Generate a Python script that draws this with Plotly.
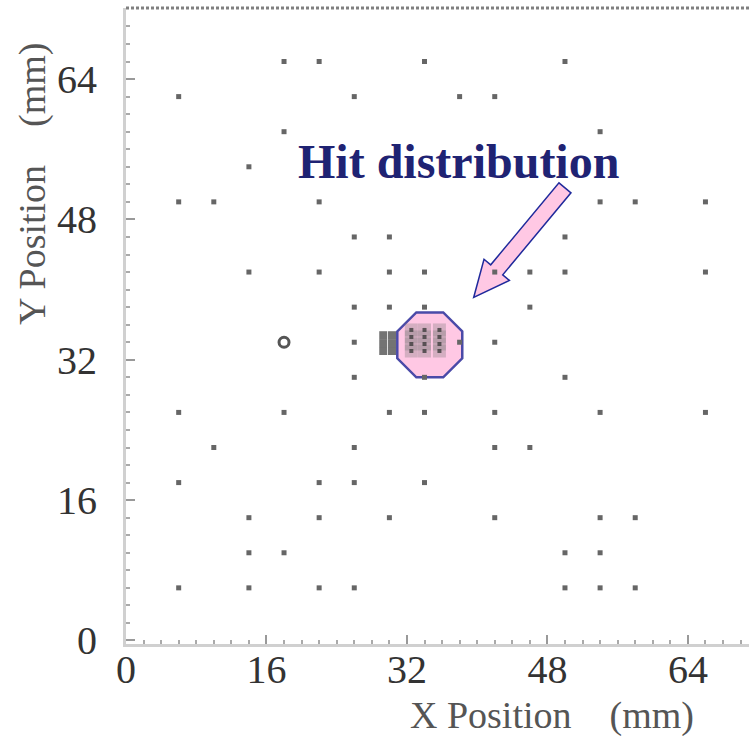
import math
import plotly.graph_objects as go

# ---------------- data (mm) ----------------
hit_x = [18, 22, 34, 50,
         6, 26, 38, 42,
         18, 54,
         14,
         6, 10, 22, 54, 58, 66,
         26, 30, 50,
         14, 22, 30, 34, 42, 46, 50, 66,
         26, 30, 34, 46,
         26, 38, 42,
         26, 34, 50,
         6, 18, 30, 34, 42, 54, 66,
         10, 26, 42, 46,
         6, 22, 26, 34,
         14, 22, 30, 42, 54, 58,
         14, 18, 50, 54,
         6, 14, 22, 26, 50, 54, 58]
hit_y = [66, 66, 66, 66,
         62, 62, 62, 62,
         58, 58,
         54,
         50, 50, 50, 50, 50, 50,
         46, 46, 46,
         42, 42, 42, 42, 42, 42, 42, 42,
         38, 38, 38, 38,
         34, 34, 34,
         30, 30, 30,
         26, 26, 26, 26, 26, 26, 26,
         22, 22, 22, 22,
         18, 18, 18, 18,
         14, 14, 14, 14, 14, 14,
         10, 10, 10, 10,
         6, 6, 6, 6, 6, 6, 6]

ring_x = [18]
ring_y = [34]

block_x = [29.3, 30.3, 29.3, 30.3, 29.3, 30.3]
block_y = [34.8, 34.8, 33.9, 33.9, 33.0, 33.0]

cluster_x = [32.5, 34.0, 35.7, 32.5, 34.0, 35.7, 32.5, 34.0, 35.7, 32.5, 34.0, 35.7]
cluster_y = [35.4, 35.4, 35.4, 34.6, 34.6, 34.6, 33.8, 33.8, 33.8, 33.0, 33.0, 33.0]

x_ticks = [0, 16, 32, 48, 64]
y_ticks = [0, 16, 32, 48, 64]
x_range = [0, 70.96]
y_range = [-0.4, 72.1]

# annotation geometry (mm)
oct_center = (34.6, 33.7)
oct_inradius = 3.7
arrow_tip = (39.6, 39.1)
arrow_tail = (50.0, 51.6)
shaft_half = 0.89
head_half = 1.88
head_len = 4.1

SERIF = "Liberation Serif, Times New Roman, serif"

fig = go.Figure()

fig.add_trace(go.Scatter(x=cluster_x, y=cluster_y, mode="markers",
                         marker=dict(symbol="square", size=13, color="rgba(120,120,120,0.32)"),
                         hoverinfo="skip", showlegend=False))
fig.add_trace(go.Scatter(x=cluster_x, y=cluster_y, mode="markers",
                         marker=dict(symbol="square", size=4, color="rgba(60,60,60,0.8)"),
                         hoverinfo="skip", showlegend=False))
fig.add_trace(go.Scatter(x=block_x, y=block_y, mode="markers",
                         marker=dict(symbol="square", size=8, color="rgba(90,90,90,0.85)"),
                         hoverinfo="skip", showlegend=False))
fig.add_trace(go.Scatter(x=hit_x, y=hit_y, mode="markers",
                         marker=dict(symbol="square", size=5, color="#666666"),
                         hoverinfo="skip", showlegend=False))
fig.add_trace(go.Scatter(x=ring_x, y=ring_y, mode="markers",
                         marker=dict(symbol="circle-open", size=10, color="#555555",
                                     line=dict(width=3)),
                         hoverinfo="skip", showlegend=False))

# octagon
cx, cy = oct_center
R = oct_inradius / math.cos(math.pi / 8)
pts = []
for k in range(8):
    a = math.pi / 8 + k * math.pi / 4
    pts.append((cx + R * math.cos(a), cy + R * math.sin(a)))
oct_path = "M " + " L ".join(f"{px:.3f},{py:.3f}" for px, py in pts) + " Z"
fig.add_shape(type="path", path=oct_path, xref="x", yref="y", layer="below",
              fillcolor="#ffc8e4", line=dict(color="#4a4aa8", width=2.5))

# block arrow
tx, ty = arrow_tip
ex, ey = arrow_tail
L = math.hypot(ex - tx, ey - ty)
dx, dy = (ex - tx) / L, (ey - ty) / L
px_, py_ = -dy, dx
bx, by = tx + dx * head_len, ty + dy * head_len
poly = [
    (tx, ty),
    (bx + px_ * head_half, by + py_ * head_half),
    (bx + px_ * shaft_half, by + py_ * shaft_half),
    (ex + px_ * shaft_half, ey + py_ * shaft_half),
    (ex - px_ * shaft_half, ey - py_ * shaft_half),
    (bx - px_ * shaft_half, by - py_ * shaft_half),
    (bx - px_ * head_half, by - py_ * head_half),
]
arrow_path = "M " + " L ".join(f"{a:.3f},{b:.3f}" for a, b in poly) + " Z"
fig.add_shape(type="path", path=arrow_path, xref="x", yref="y", layer="below",
              fillcolor="#ffc8e4", line=dict(color="#1f2a9c", width=1.5))

# top dashed border
fig.add_shape(type="line", xref="paper", yref="paper", x0=0, x1=1, y0=1, y1=1,
              line=dict(color="#808080", width=3, dash="3px,2px"))

fig.add_annotation(x=37.9, y=54.6, xref="x", yref="y", text="<b>Hit distribution</b>",
                   showarrow=False, xanchor="center", yanchor="middle",
                   font=dict(family=SERIF, size=48, color="#1f2373"))

fig.add_annotation(x=0.684, y=-0.1123, xref="paper", yref="paper",
                   text="X Position\u00a0\u00a0\u00a0\u00a0(mm)", showarrow=False,
                   xanchor="center", yanchor="middle",
                   font=dict(family=SERIF, size=38, color="#555555"))
fig.add_annotation(x=-0.149, y=0.7235, xref="paper", yref="paper",
                   text="Y Position\u00a0\u00a0\u00a0\u00a0(mm)", showarrow=False, textangle=-90,
                   xanchor="center", yanchor="middle",
                   font=dict(family=SERIF, size=38, color="#555555"))

axis_common = dict(
    showgrid=False, zeroline=False, showline=True, linecolor="#d0d0d0", linewidth=3,
    ticks="inside", ticklen=9, tickwidth=2, tickcolor="#999999",
    minor=dict(ticks="inside", ticklen=4, tickwidth=2, tickcolor="#aaaaaa", dtick=2),
    tickfont=dict(family=SERIF, size=40, color="#333333"),
)

fig.update_xaxes(range=x_range, tickvals=x_ticks, ticktext=[str(v) for v in x_ticks],
                 ticklabelstandoff=-12, **axis_common)
fig.update_yaxes(range=y_range, tickvals=y_ticks, ticktext=[str(v) for v in y_ticks],
                 ticklabelstandoff=18, **axis_common)

fig.update_layout(width=749, height=736, margin=dict(l=126, r=0, t=8, b=91.5),
                  paper_bgcolor="white", plot_bgcolor="white", showlegend=False)

fig.write_html("out.html")
